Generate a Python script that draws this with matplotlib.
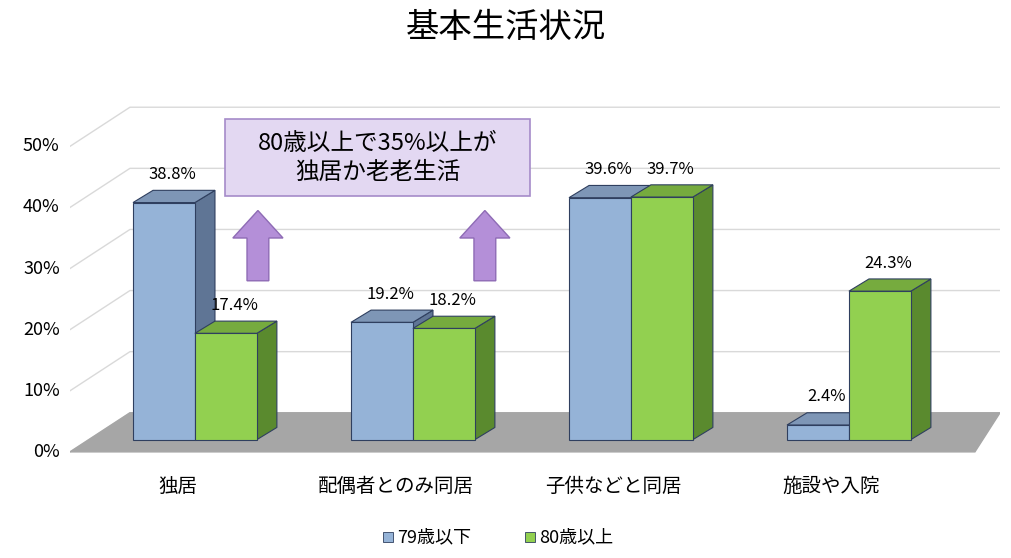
import matplotlib
matplotlib.use("Agg")
import matplotlib.pyplot as plt
from matplotlib.patches import Polygon, FancyArrow, FancyBboxPatch
import numpy as np

plt.rcParams['font.family'] = ['Noto Sans CJK JP', 'DejaVu Sans']

categories = ["独居", "配偶者とのみ同居", "子供などと同居", "施設や入院"]
series_names = ["79歳以下", "80歳以上"]
under79 = [38.8, 19.2, 39.6, 2.4]
over80 = [17.4, 18.2, 39.7, 24.3]
yticks = [0, 10, 20, 30, 40, 50]

fig = plt.figure(figsize=(10.12, 5.58), dpi=100)
ax = fig.add_axes([70/1012, 100/558, 930/1012, 385/558])
XL, XR = -0.573, 3.693
ax.set_xlim(XL, XR)
ax.set_ylim(-3, 60)
ax.axis('off')

w = 0.284
dx, dy = 0.092, 2.0
edge = '#2F3F5F'

for v in yticks:
    ax.plot([XL, -0.298, XR], [v - 2, v + 4.4, v + 4.4], color='#D9D9D9', lw=1, zorder=0)
    ax.text(-0.62, v - 2, f"{v}%", ha='right', va='center', fontsize=13)
ax.add_patch(Polygon([(XL, -2), (3.578, -2), (XR, 4.4), (-0.298, 4.4)],
                     closed=True, color='#A6A6A6', zorder=1))

colors = [('#95B3D7', '#7E96B6', '#5F7595'), ('#92D050', '#76AB3E', '#5A8A2E')]
x = np.arange(len(categories))
for si, vals in enumerate([under79, over80]):
    front, top, side = colors[si]
    for i, v in enumerate(vals):
        x0 = x[i] - w + si * w
        x1 = x0 + w
        z = 3 + si
        ax.add_patch(Polygon([(x1, 0), (x1 + dx, dy), (x1 + dx, v + dy), (x1, v)],
                             closed=True, fc=side, ec=edge, lw=0.8, zorder=z))
        ax.add_patch(Polygon([(x0, v), (x0 + dx, v + dy), (x1 + dx, v + dy), (x1, v)],
                             closed=True, fc=top, ec=edge, lw=0.8, zorder=z))
        ax.bar(x0, v, width=w, align='edge', color=front, edgecolor=edge, lw=0.8, zorder=z)
        ax.text(x0 + w / 2 + 0.04, v + dy + 1.2, f"{v}%", ha='center', va='bottom', fontsize=12, zorder=10)

for i, c in enumerate(categories):
    ax.text(x[i] - 0.08, -7.6, c, ha='center', va='center', fontsize=14)

for ax_x in [0.289, 1.33]:
    ax.add_patch(FancyArrow(ax_x, 26, 0, 11.5, width=0.1, head_width=0.23, head_length=4.5,
                            length_includes_head=True, fc='#B48FD8', ec='#8E6BB5', lw=1, zorder=8))
ax.add_patch(FancyBboxPatch((0.138, 39.8), 1.40, 12.6, boxstyle='square,pad=0',
                            fc='#E3D8F2', ec='#A58BC9', lw=1.2, zorder=8))
ax.text(0.838, 46.1, "80歳以上で35%以上が\n独居か老老生活", ha='center', va='center',
        fontsize=17, linespacing=1.3, zorder=9)

fig.text(0.5, 1 - 28/558, "基本生活状況", ha='center', va='center', fontsize=24)

for px, name, col in [(383, series_names[0], colors[0][0]), (525, series_names[1], colors[1][0])]:
    fig.patches.append(plt.Rectangle((px/1012, 1 - 542/558), 10/1012, 10/558, fc=col, ec=edge, lw=0.6,
                                     transform=fig.transFigure, figure=fig))
    fig.text((px + 14)/1012, 1 - 537/558, name, va='center', fontsize=13)

fig.savefig("out.png", dpi=100)
